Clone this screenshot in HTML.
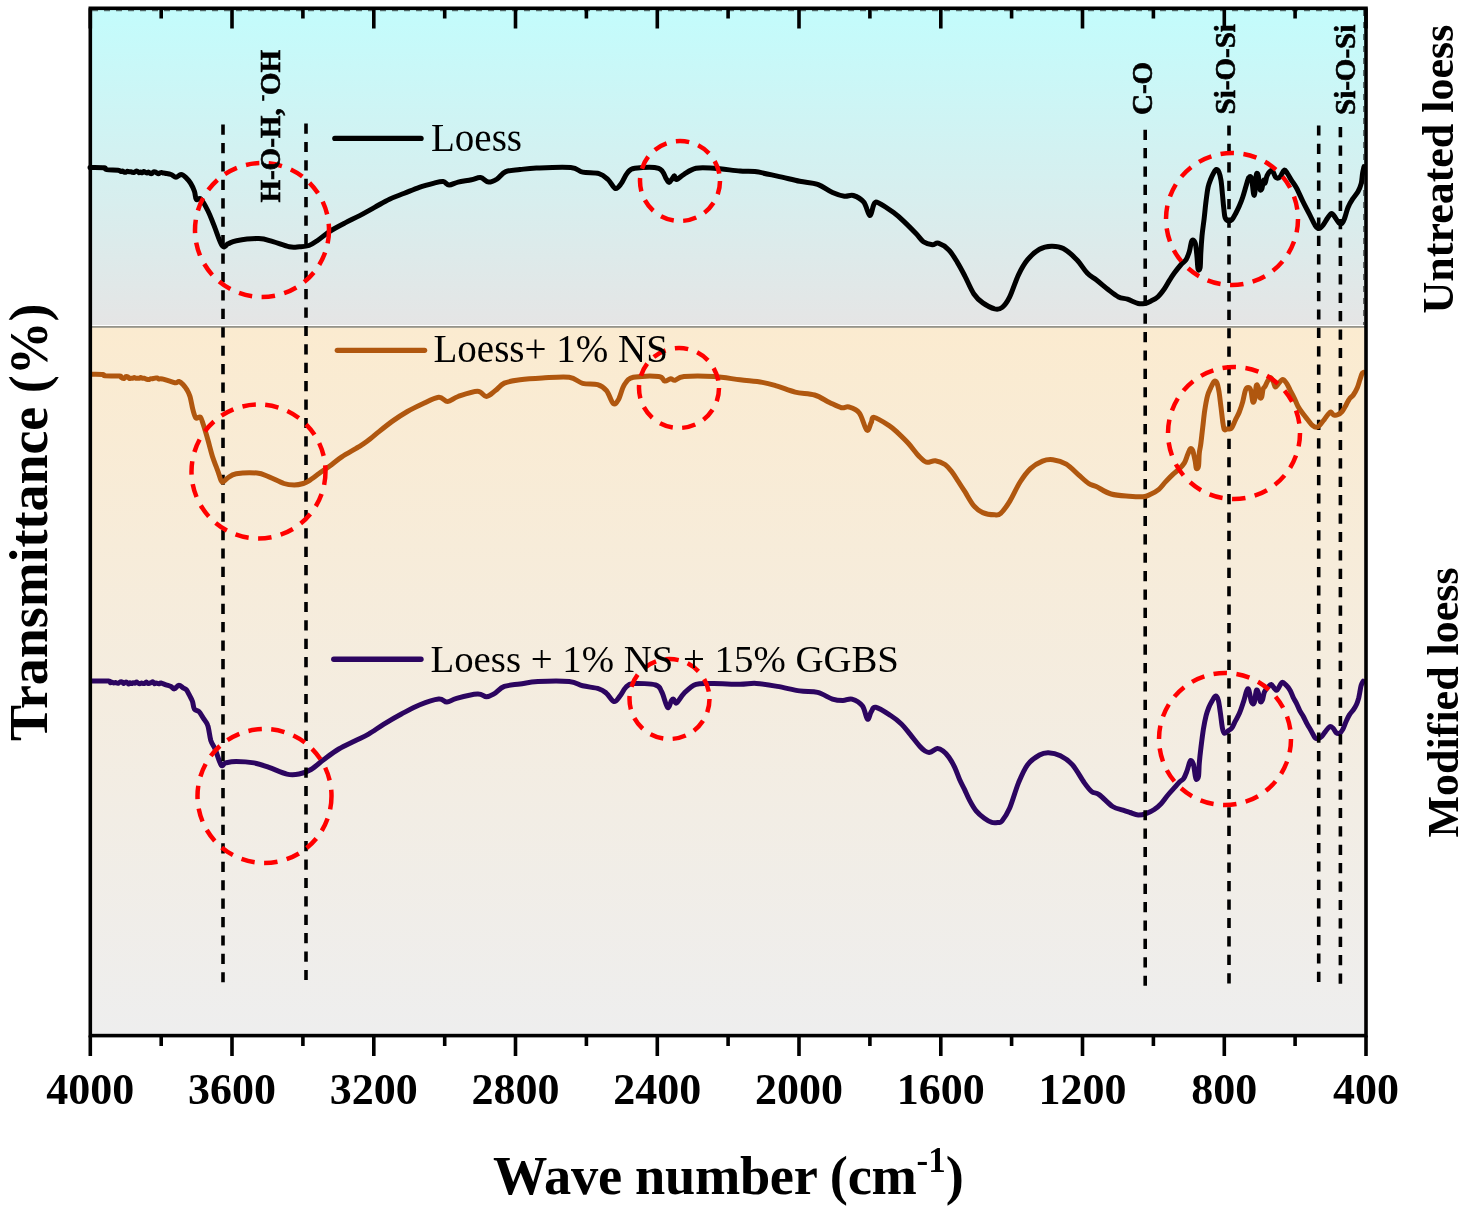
<!DOCTYPE html><html><head><meta charset="utf-8"><style>html,body{margin:0;padding:0;background:#fff;}svg{display:block;will-change:transform;}text{font-family:"Liberation Serif",serif;}</style></head><body><svg width="1475" height="1213" viewBox="0 0 1475 1213"><defs><linearGradient id="g1" x1="0" y1="0" x2="0" y2="1"><stop offset="0" stop-color="#c3fcfc"/><stop offset="1" stop-color="#e5e5e5"/></linearGradient><linearGradient id="g2" x1="0" y1="0" x2="0" y2="1"><stop offset="0" stop-color="#fbebd0"/><stop offset="1" stop-color="#eeeeee"/></linearGradient></defs><rect width="1475" height="1213" fill="#fff"/><rect x="90" y="9" width="1276" height="316.5" fill="url(#g1)"/><rect x="90" y="325" width="1276" height="1.2" fill="#ffffff"/><rect x="90" y="326.2" width="1276" height="1.6" fill="#7c796e"/><rect x="90" y="327.8" width="1276" height="706" fill="url(#g2)"/><path d="M1366,1035.6V1055.9M1366,8.3V28.6M1295.1,1035.6V1045.9M1295.1,8.3V18.6M1224.3,1035.6V1055.9M1224.3,8.3V28.6M1153.4,1035.6V1045.9M1153.4,8.3V18.6M1082.5,1035.6V1055.9M1082.5,8.3V28.6M1011.6,1035.6V1045.9M1011.6,8.3V18.6M940.8,1035.6V1055.9M940.8,8.3V28.6M869.9,1035.6V1045.9M869.9,8.3V18.6M799,1035.6V1055.9M799,8.3V28.6M728.1,1035.6V1045.9M728.1,8.3V18.6M657.3,1035.6V1055.9M657.3,8.3V28.6M586.4,1035.6V1045.9M586.4,8.3V18.6M515.5,1035.6V1055.9M515.5,8.3V28.6M444.7,1035.6V1045.9M444.7,8.3V18.6M373.8,1035.6V1055.9M373.8,8.3V28.6M302.9,1035.6V1045.9M302.9,8.3V18.6M232,1035.6V1055.9M232,8.3V28.6M161.2,1035.6V1045.9M161.2,8.3V18.6M90.3,1035.6V1055.9M90.3,8.3V28.6" stroke="#000" stroke-width="3.6" fill="none"/><path d="M90,167.6C92.3,167.6 101.2,167.5 104,167.8C106.8,168.1 104.2,169.2 106.5,169.6C108.8,170 115.6,169.9 118,170.2C120.4,170.5 120.2,171.4 121,171.5C121.8,171.6 122.1,170.8 122.6,170.9C123.2,171 123.7,172 124.3,172.3C124.8,172.5 125.3,172.3 125.9,172.2C126.4,172 127,171.4 127.5,171.3C128.1,171.3 128.6,171.7 129.1,171.8C129.7,171.9 130.2,171.7 130.8,171.8C131.3,171.9 131.9,172.1 132.4,172.2C133,172.3 133.5,172.7 134,172.5C134.6,172.4 135.1,171.5 135.7,171.3C136.2,171.1 136.8,171 137.3,171.3C137.8,171.5 138.4,172.7 138.9,172.8C139.5,172.9 140,172.1 140.6,172.1C141.1,172.1 141.6,172.9 142.2,172.8C142.7,172.7 143.3,171.6 143.8,171.5C144.4,171.4 144.9,172.1 145.4,172.3C146,172.6 146.5,173 147.1,172.9C147.6,172.9 148.2,172 148.7,172.1C149.2,172.2 149.8,173.2 150.3,173.4C150.9,173.7 151.4,173.7 152,173.4C152.5,173.2 153,172.2 153.6,171.9C154.1,171.7 154.7,171.8 155.2,172C155.8,172.1 156.3,172.7 156.9,173C157.4,173.3 157.9,173.8 158.5,173.7C159,173.7 159.6,173 160.1,172.8C160.7,172.6 161.2,172.5 161.7,172.6C162.3,172.6 162.8,172.9 163.4,173C163.9,173.1 163.7,172.9 165,173.2C166.3,173.5 169.2,173.8 171,174.5C172.8,175.2 174.3,177.2 176,177.2C177.7,177.2 179.3,174.5 181,174.6C182.7,174.7 184.4,176.1 186,177.6C187.6,179.1 189.3,181.1 190.7,183.4C192.1,185.7 193.6,188.8 194.5,191.5C195.4,194.2 195.2,198.2 196.3,199.5C197.4,200.8 198.9,197.1 200.8,199C202.8,200.9 205.8,206.6 208,211C210.2,215.4 211.6,219.6 214,225.4C216.4,231.2 219.8,242.8 222.2,245.8C224.6,248.9 225.9,244.5 228.3,243.7C230.7,242.8 231.3,241.5 236.4,240.7C241.5,239.8 252.7,238.4 258.8,238.6C264.9,238.8 267.9,240.3 273,241.7C278.1,243.1 284.9,246 289.3,246.8C293.7,247.7 296.2,247 299.5,246.8C302.8,246.6 305.9,246.6 309,245.5C312.1,244.4 314.4,242.6 317.9,240.2C321.4,237.8 325.3,234.2 329.8,231.3C334.3,228.5 339.7,225.7 344.7,223.1C349.7,220.5 354.7,218.2 359.7,215.6C364.7,213 369.6,210.1 374.6,207.4C379.6,204.7 384.5,201.5 389.5,199.2C394.5,196.8 399.4,195.3 404.4,193.3C409.4,191.3 414.3,189 419.3,187.3C424.3,185.6 430.2,184.1 434.2,183.1C438.2,182.1 440.7,181.3 443.2,181.6C445.7,181.9 446.6,184.9 449.1,185C451.6,185.1 454.4,183 458.1,182.1C461.8,181.2 467.8,180.6 471.5,179.8C475.2,179.1 477.6,177.2 480.5,177.6C483.4,178 486,181.8 488.7,182.1C491.4,182.3 494,180.8 496.9,179.1C499.8,177.3 501.9,173.2 505.8,171.6C509.7,170 514.9,170.2 520,169.6C525.1,169 527.9,168.3 536.4,168C544.9,167.7 563,166.9 570.7,167.6C578.4,168.3 577.9,171.1 582.6,172.1C587.3,173.1 594.8,172.4 599,173.6C603.2,174.8 605.2,177 608,179.5C610.8,182 613.3,187.9 615.5,188.5C617.7,189.1 619.4,185.9 621.4,183.3C623.4,180.7 625.2,175.3 627.4,172.8C629.6,170.3 629.6,169.1 634.8,168.3C640,167.6 653.5,166.6 658.7,168.3C663.9,170.1 664.5,176.4 666.2,178.8C667.9,181.2 668.1,182.5 669.1,182.5C670.1,182.5 671.2,179.9 672.1,178.8C673,177.7 673.6,175.7 674.4,175.8C675.1,175.9 675,179.8 676.6,179.5C678.2,179.2 680.8,176.2 684,174.3C687.2,172.4 691,169.3 696,168.3C701,167.3 706.6,167.9 713.9,168.3C721.2,168.8 733.2,170.4 740,171C746.8,171.6 748.7,170.8 754.9,171.6C761.1,172.4 769.8,174.5 777.3,176.1C784.8,177.7 793,179.9 799.7,181.3C806.4,182.7 812.1,182.4 817.6,184.3C823.1,186.2 828,190.5 832.5,192.5C837,194.5 840.9,195.7 844.4,196.2C847.9,196.7 850.1,194.5 853.3,195.5C856.5,196.5 861,198.8 863.8,202.2C866.5,205.5 868.1,215.3 869.8,215.6C871.5,215.8 872.7,205.8 874.2,203.7C875.7,201.6 875.5,201.4 878.7,202.9C881.9,204.4 889.4,209.5 893.6,212.6C897.8,215.7 900.4,218.1 904.1,221.6C907.8,225.1 912.8,230.2 916,233.5C919.2,236.8 920.7,239.8 923.4,241.7C926.1,243.6 929.9,244.4 932.4,244.7C934.9,244.9 935.7,242.3 938.4,243.2C941.1,244.1 945.6,246.7 948.8,249.9C952,253.1 954.8,258.2 957.5,262.6C960.2,267 962.2,270.9 964.9,276.1C967.6,281.3 970.9,289.5 973.9,294C976.9,298.5 979.3,300.4 982.8,302.9C986.3,305.4 991.5,308.1 994.7,308.9C997.9,309.6 999.7,309.4 1002.2,307.4C1004.7,305.4 1007,302.4 1009.7,296.9C1012.4,291.4 1015.6,280.8 1018.6,274.6C1021.6,268.4 1024.1,263.9 1027.6,259.7C1031.1,255.5 1035.5,251.4 1039.5,249.2C1043.5,246.9 1047.4,246.3 1051.4,246.2C1055.4,246.1 1059.1,246.2 1063.3,248.5C1067.5,250.8 1072.8,255.6 1076.8,259.7C1080.8,263.8 1084,269.8 1087.2,273.1C1090.4,276.5 1092.7,277.1 1096.2,279.8C1099.7,282.5 1104.4,286.6 1108.1,289.5C1111.8,292.4 1115.3,295.3 1118.5,296.9C1121.7,298.5 1124.2,298.1 1127.5,299.2C1130.8,300.3 1135.3,302.8 1138.2,303.5C1141.1,304.2 1142.6,303.9 1144.8,303.5C1147,303.1 1149.2,301.9 1151.4,300.8C1153.6,299.7 1155.8,298.8 1158,296.7C1160.2,294.6 1162.7,291.2 1164.6,288.5C1166.5,285.8 1167.9,282.8 1169.6,280.2C1171.2,277.6 1172.6,275.4 1174.5,272.8C1176.4,270.2 1179.2,266.7 1181.1,264.5C1183,262.3 1184.7,261.8 1186.1,259.6C1187.5,257.4 1188.4,254.5 1189.4,251.3C1190.4,248.1 1190.9,242 1191.9,240.6C1192.9,239.2 1194.4,240.8 1195.2,243.1C1196,245.4 1196.3,250.3 1196.8,254.6C1197.3,258.9 1197.5,266.5 1198,268.7C1198.5,270.9 1199.6,270.4 1200.1,267.8C1200.6,265.2 1200.5,258.3 1200.8,253C1201.1,247.7 1201.5,241.7 1202,236C1202.5,230.3 1203.4,224.9 1204.1,219C1204.8,213.1 1205.4,206 1206.1,200.7C1206.8,195.4 1207.3,190.7 1208.1,187.1C1208.9,183.5 1209.9,181.4 1210.8,179C1211.7,176.6 1212.7,174.5 1213.6,172.9C1214.5,171.3 1215.4,169.6 1216.3,169.5C1217.2,169.4 1218.2,170.4 1219,172.2C1219.8,174 1220.4,176.7 1221,180.3C1221.6,183.9 1222,189.4 1222.4,193.9C1222.9,198.4 1223.2,203.6 1223.7,207.5C1224.2,211.4 1224.3,215.3 1225.1,217.6C1225.9,219.8 1227.4,220.7 1228.5,221C1229.6,221.3 1230.8,220.8 1231.9,219.7C1233,218.6 1234.1,216.5 1235.3,214.2C1236.5,211.9 1238.1,208.9 1239.3,206.1C1240.5,203.3 1241.6,200.7 1242.7,197.3C1243.8,193.9 1245.1,189.1 1246.1,185.8C1247.1,182.5 1247.9,178.8 1248.8,177.6C1249.7,176.3 1250.7,175.6 1251.5,178.3C1252.3,181 1253,191.5 1253.6,193.9C1254.2,196.3 1254.5,195.7 1254.9,192.5C1255.4,189.3 1255.7,177.7 1256.3,174.9C1256.9,172.1 1257.7,173.3 1258.3,175.6C1258.9,177.9 1259.1,186.2 1259.7,188.5C1260.3,190.8 1261,190.6 1261.7,189.2C1262.4,187.8 1263.1,181.3 1263.7,180.3C1264.3,179.3 1264.5,183.9 1265.1,183.1C1265.7,182.3 1266.2,177.6 1267.1,175.6C1268,173.6 1269.5,171.4 1270.5,170.8C1271.5,170.2 1272.3,171.1 1273.2,172.2C1274.1,173.3 1274.8,176.8 1275.9,177.6C1277,178.4 1278.6,178.2 1280,177C1281.4,175.8 1282.8,170.8 1284.1,170.2C1285.3,169.6 1286.3,171.9 1287.5,173.6C1288.7,175.3 1290,177.9 1291.5,180.3C1293,182.7 1294.5,184.3 1296.5,188C1298.5,191.7 1301,197.7 1303.2,202.2C1305.4,206.7 1307.8,211 1309.8,214.8C1311.8,218.7 1313.6,223 1315.1,225.3C1316.6,227.6 1317.7,228.6 1319,228.6C1320.3,228.6 1321.6,227.1 1323,225.3C1324.4,223.5 1326.2,220 1327.6,218C1329,216 1330.3,213.4 1331.6,213.4C1332.9,213.4 1334.3,216.4 1335.5,218C1336.7,219.6 1337.7,221.8 1338.8,222.7C1339.9,223.6 1341.1,224.1 1342.1,223.3C1343.1,222.5 1343.7,220.6 1344.7,218C1345.7,215.4 1346.7,210.7 1348,207.5C1349.3,204.3 1351,201.5 1352.7,198.9C1354.4,196.3 1356.5,194.2 1357.9,191.7C1359.3,189.2 1360.4,186.8 1361.2,183.7C1362,180.6 1362.1,176 1362.6,173.2C1363.1,170.3 1363.8,167.7 1364,166.6" fill="none" stroke="#000000" stroke-width="5" stroke-linejoin="round" stroke-linecap="round"/><path d="M92,681C94.8,681 105.4,680.7 108.5,681C111.6,681.3 109.9,682.6 110.5,682.8C111.1,683 111.6,682.2 112.1,682.2C112.7,682.2 113.2,682.9 113.8,682.9C114.3,683 114.8,682.5 115.4,682.5C115.9,682.6 116.5,683 117,683.1C117.6,683.2 118.1,683.3 118.6,683.1C119.2,682.9 119.7,682.1 120.3,681.9C120.8,681.7 121.4,681.5 121.9,681.8C122.4,682.1 123,683.5 123.5,683.6C124.1,683.7 124.6,682.5 125.2,682.3C125.7,682.1 126.2,682 126.8,682.3C127.3,682.6 127.9,683.9 128.4,684C129,684.1 129.5,682.9 130,682.8C130.6,682.8 131.1,683.6 131.7,683.6C132.2,683.6 132.8,682.9 133.3,682.8C133.8,682.8 134.4,683.3 134.9,683.2C135.5,683.1 136,682.1 136.6,682.1C137.1,682.1 137.7,682.9 138.2,683.2C138.7,683.5 139.3,683.8 139.8,683.7C140.4,683.7 140.9,683 141.5,683C142,682.9 142.5,683.4 143.1,683.5C143.6,683.5 144.2,683.6 144.7,683.3C145.3,683.1 145.8,681.9 146.3,682C146.9,682 147.4,683.3 148,683.5C148.5,683.7 149.1,683.3 149.6,683.2C150.1,683 150.7,682.7 151.2,682.5C151.8,682.3 152.3,681.7 152.9,681.9C153.4,682.1 153.9,683.6 154.5,683.8C155,683.9 155.6,683 156.1,682.9C156.7,682.9 157.2,683.3 157.7,683.5C158.3,683.6 158.8,683.9 159.4,683.8C159.9,683.7 159.9,682.8 161,683C162.1,683.2 164.3,684.2 166,684.8C167.7,685.4 169.6,685.8 171,686.5C172.4,687.2 173,689.1 174.3,688.9C175.6,688.7 177.3,685.4 178.8,685.3C180.3,685.1 182.1,687.3 183.3,688C184.6,688.7 185.3,688.5 186.3,689.6C187.3,690.8 188.3,692.9 189.3,694.9C190.3,696.9 191.7,699.1 192.5,701.5C193.3,703.9 193.3,707.5 194.4,709.2C195.5,710.9 197.4,710 198.9,711.5C200.4,713 201.8,715.9 203.3,718.2C204.8,720.6 206.6,721.9 207.8,725.6C209.1,729.3 209.6,736.5 210.8,740.5C212.1,744.5 213.6,745.4 215.3,749.5C217,753.6 219.5,762.9 221.2,765.1C222.9,767.3 223.2,763.5 225.7,762.9C228.2,762.3 231.5,761.4 236.2,761.4C240.9,761.4 248.6,761.9 254.1,762.9C259.6,763.9 263.5,765.5 269,767.4C274.5,769.3 281.9,773 286.9,774.1C291.9,775.2 295,774.8 299,774C303,773.2 306.9,771.9 311,769.5C315.1,767.1 319.3,762.9 323.9,759.5C328.5,756.1 333.6,752.1 338.8,749C344,745.9 350.2,743.3 355.2,740.8C360.2,738.3 363.9,736.8 368.6,734.1C373.3,731.4 378,727.8 383.5,724.4C389,721 395.4,717.2 401.4,714C407.4,710.8 413.1,707.5 419.3,705C425.5,702.5 434.1,699.6 438.7,699.1C443.3,698.6 443.9,702.2 446.9,702.1C449.9,702 451.5,699.7 456.6,698.3C461.7,696.9 472.5,694.1 477.5,693.9C482.5,693.6 483.7,696.8 486.4,696.8C489.1,696.8 490.9,695.6 493.9,693.9C496.9,692.2 499.9,688 504.3,686.4C508.7,684.8 514.4,684.8 520,684C525.6,683.2 529.7,682 537.9,681.6C546.1,681.2 561.8,680.9 569.2,681.6C576.7,682.3 577.6,684.6 582.6,685.8C587.6,687 595,687.5 599,688.8C603,690 604,691.2 606.5,693.3C609,695.4 611.8,701 614,701.5C616.2,702 617.9,698.6 619.9,696.2C621.9,693.8 623.7,689.4 625.9,687.3C628.1,685.2 628.3,684 633.3,683.6C638.3,683.2 651,683.6 655.7,685C660.4,686.4 659.7,688.1 661.7,691.8C663.7,695.5 666,705.9 667.6,707.4C669.2,708.9 670.4,702.1 671.4,700.7C672.4,699.3 672.7,698.8 673.6,699.2C674.5,699.6 674.9,703.9 676.6,702.9C678.4,701.9 680.9,696.4 684.1,693.3C687.3,690.2 691,685.9 696,684.3C701,682.7 706.6,683.6 713.9,683.6C721.2,683.6 732.9,684.2 740,684.2C747.1,684.2 750.2,683 756.4,683.4C762.6,683.8 770.1,685.1 777.3,686.4C784.5,687.6 793,689.9 799.7,690.9C806.4,691.9 812.1,691 817.6,692.4C823.1,693.8 828.3,697.7 832.5,699.1C836.7,700.5 839.7,700.6 842.9,700.6C846.1,700.6 848.7,698.2 851.9,699.1C855.1,700 859.7,702.4 862.3,705.8C864.9,709.1 866,718.2 867.5,719.2C869,720.2 869.8,713.8 871.2,711.8C872.6,709.8 872.5,706.7 875.7,707.3C878.9,707.9 886.4,712.8 890.6,715.5C894.8,718.2 897.9,720.6 901.1,723.7C904.3,726.8 906.9,730.3 910,734.1C913.1,737.9 917.5,743.7 920,746.5C922.5,749.3 923.4,750 925,751C926.6,752 927.9,752.7 929.9,752.3C931.9,751.9 935.1,748.8 937.3,748.6C939.5,748.4 941.2,749.6 943.1,751C945,752.4 947,754.5 948.9,757.2C950.8,759.9 952.8,763.4 954.6,767.1C956.4,770.8 958,775.8 959.6,779.5C961.2,783.2 962.9,786 964.5,789.4C966.1,792.8 967.6,796.5 969.5,800.1C971.4,803.7 973.6,807.8 976.1,810.8C978.6,813.8 981.7,816.3 984.3,818.2C986.9,820.1 989.4,821.7 991.8,822.4C994.1,823.1 996.7,822.6 998.4,822.4C1000.1,822.2 1000.1,823.4 1002,821C1003.9,818.6 1006.9,814.4 1009.7,808C1012.5,801.6 1015.6,789.8 1018.6,782.6C1021.6,775.4 1024.1,769.3 1027.6,764.7C1031.1,760.1 1036,757 1039.5,755C1043,753 1044.9,752.7 1048.4,752.8C1051.9,752.9 1056.4,753.8 1060.4,755.8C1064.4,757.8 1068.3,760.2 1072.3,764.7C1076.3,769.2 1081,778.1 1084.2,782.6C1087.4,787.1 1089.2,789.6 1091.7,791.6C1094.2,793.6 1095.6,792.1 1099.1,794.6C1102.6,797.1 1108.6,803.9 1112.6,806.5C1116.6,809.1 1120.1,809.2 1123,810.2C1125.9,811.2 1127.5,811.7 1130,812.5C1132.5,813.3 1135.5,814.9 1138.2,815C1141,815.1 1143.8,814.3 1146.5,813.3C1149.2,812.3 1152.2,810.9 1154.7,809.2C1157.2,807.6 1159.2,805.6 1161.3,803.4C1163.4,801.2 1165.2,798.3 1167.1,796C1169,793.7 1170.8,791.7 1172.9,789.4C1175,787.1 1177.7,783.8 1179.5,782C1181.3,780.2 1182.4,780.5 1183.6,778.7C1184.8,776.9 1185.9,773.8 1186.9,771.2C1187.9,768.6 1188.7,764.8 1189.4,763C1190.1,761.2 1190.3,760.2 1191,760.5C1191.7,760.8 1192.8,762.1 1193.5,764.6C1194.2,767.1 1194.7,772.9 1195.2,775.4C1195.7,777.9 1195.8,779.4 1196.3,779.5C1196.8,779.6 1198,779 1198.5,776.2C1199,773.5 1198.9,767.4 1199.3,763C1199.7,758.6 1200,755.2 1200.7,749.6C1201.4,744 1202.5,734.9 1203.4,729.2C1204.3,723.6 1205.2,719.3 1206.1,715.7C1207,712.1 1207.8,710 1208.8,707.5C1209.8,705 1211.1,702.7 1212.2,700.8C1213.3,698.9 1214.6,696.1 1215.6,696C1216.6,695.9 1217.5,697.4 1218.3,700.1C1219.1,702.8 1219.6,707.7 1220.3,712.3C1221,716.9 1221.7,724.4 1222.4,727.9C1223.1,731.4 1223.4,732.8 1224.4,733.3C1225.4,733.8 1227.2,731.5 1228.5,730.6C1229.8,729.7 1230.8,729.5 1231.9,727.9C1233,726.3 1234.1,723.5 1235.3,721.1C1236.5,718.7 1237.9,716.8 1239.3,713.6C1240.7,710.4 1242.2,705.9 1243.4,702.1C1244.7,698.3 1245.9,692.6 1246.8,690.6C1247.7,688.6 1248,688 1248.8,689.9C1249.6,691.8 1250.6,700 1251.5,702.1C1252.4,704.2 1253.4,704.7 1254.2,702.8C1255,700.9 1255.6,692.3 1256.3,690.6C1257,688.9 1257.6,690.8 1258.3,692.6C1259,694.4 1259.6,700.1 1260.3,701.4C1261,702.6 1261.7,701.7 1262.4,700.1C1263.1,698.5 1263.5,694.1 1264.4,692C1265.3,689.9 1266.7,688.5 1267.8,687.2C1268.9,686 1270.1,684.3 1271.2,684.5C1272.3,684.7 1273.6,687.7 1274.6,688.6C1275.6,689.5 1276.1,690.9 1277.3,689.9C1278.5,688.9 1280.5,683.3 1282,682.5C1283.5,681.7 1284.7,683.9 1286.1,685.2C1287.5,686.5 1289,688.4 1290.2,690.5C1291.4,692.6 1292.2,695.5 1293.3,697.7C1294.4,699.9 1295.5,701.4 1296.6,703.6C1297.7,705.8 1298.8,708.8 1299.9,710.9C1301,713 1302,714 1303.2,716.2C1304.4,718.4 1305.9,721.7 1307.2,724.1C1308.5,726.5 1309.8,728.4 1311.1,730.7C1312.4,733 1313.9,736.6 1315.1,737.9C1316.3,739.2 1317.3,738.8 1318.4,738.6C1319.5,738.4 1320.5,737.8 1321.7,736.6C1322.9,735.4 1324.3,732.9 1325.6,731.3C1326.9,729.6 1328.4,727.2 1329.6,726.7C1330.8,726.2 1331.8,727 1332.9,728C1334,729 1335.1,731.8 1336.2,732.7C1337.3,733.6 1338.4,733.8 1339.5,733.3C1340.6,732.8 1341.7,731.4 1342.8,729.4C1343.9,727.4 1345,723.9 1346.1,721.5C1347.2,719.1 1348.1,717 1349.4,714.9C1350.7,712.8 1352.8,710.7 1354,708.9C1355.2,707.1 1355.8,706 1356.6,704.3C1357.4,702.5 1358,700.5 1358.6,698.4C1359.1,696.3 1359.5,694 1359.9,691.8C1360.3,689.6 1360.7,687 1361.2,685.2C1361.8,683.4 1362.9,681.9 1363.2,681.2" fill="none" stroke="#2c0560" stroke-width="5" stroke-linejoin="round" stroke-linecap="round"/><line x1="223" y1="124.5" x2="223" y2="982.3" stroke="#000" stroke-width="3.6" stroke-dasharray="10.2 8.23"/><line x1="306" y1="123.5" x2="306" y2="980" stroke="#000" stroke-width="3.6" stroke-dasharray="10.2 8.20"/><line x1="1145.2" y1="129.7" x2="1145.2" y2="985.9" stroke="#000" stroke-width="3.6" stroke-dasharray="10.2 8.19"/><line x1="1229" y1="125.4" x2="1229" y2="983.4" stroke="#000" stroke-width="3.6" stroke-dasharray="10.2 8.23"/><line x1="1318.7" y1="125.4" x2="1318.7" y2="982.2" stroke="#000" stroke-width="3.6" stroke-dasharray="10.2 8.20"/><line x1="1340.4" y1="127.1" x2="1340.4" y2="983.9" stroke="#000" stroke-width="3.6" stroke-dasharray="10.2 8.20"/><path d="M92,374.2C93.8,374.2 100.8,374.1 103,374.4C105.2,374.7 102.2,375.5 105,375.8C107.8,376.1 116.8,375.8 119.5,376C122.2,376.2 120.5,376.9 121,377.3C121.5,377.7 122.1,378.1 122.7,378.3C123.2,378.5 123.8,378.6 124.3,378.3C124.9,378.1 125.4,376.9 126,376.6C126.5,376.4 127.1,376.5 127.6,376.8C128.2,377.1 128.7,378.1 129.3,378.4C129.8,378.6 130.4,378.3 130.9,378.2C131.5,378.2 132,378.3 132.6,378.2C133.1,378.1 133.7,377.5 134.2,377.5C134.8,377.5 135.3,378.1 135.9,378.2C136.4,378.3 137,378.3 137.5,378.3C138.1,378.3 138.6,378.4 139.2,378.3C139.7,378.2 140.3,377.6 140.8,377.5C141.4,377.5 141.9,378.1 142.5,378.2C143.1,378.3 143.6,378 144.2,378.2C144.7,378.3 145.3,378.7 145.8,378.9C146.4,379.1 146.9,379.4 147.5,379.5C148,379.6 148.6,379.6 149.1,379.5C149.7,379.4 150.2,378.9 150.8,378.8C151.3,378.6 151.9,378.7 152.4,378.7C153,378.6 153.5,378.5 154.1,378.4C154.6,378.3 155.2,378 155.7,378C156.3,377.9 156.8,377.9 157.4,378C157.9,378.2 158.5,378.9 159,379C159.6,379.1 160.1,378.8 160.7,378.8C161.2,378.8 161.8,378.9 162.3,379C162.9,379.1 162.4,378.8 164,379.3C165.6,379.8 170,381.2 172,381.8C174,382.4 174.8,382.9 176,382.8C177.2,382.8 177.8,381.2 179,381.5C180.2,381.8 181.7,383.1 183,384.5C184.3,385.9 185.8,387.9 187,389.9C188.2,391.9 189,393.2 190,396.5C191,399.8 191.9,406.1 192.9,409.7C193.9,413.3 194.7,416.7 195.9,417.9C197.2,419.1 199.2,416 200.4,417.1C201.6,418.2 202.1,420.9 203.3,424.6C204.5,428.3 206.3,434.3 207.8,439.5C209.3,444.7 210.6,450.4 212.3,455.9C214.1,461.4 216.7,467.9 218.3,472.3C219.9,476.7 220.5,481 222,482C223.5,483 224.8,479.7 227.2,478.3C229.6,476.9 231.2,474.7 236.2,473.8C241.2,472.9 251.5,472.5 257,473C262.5,473.5 264.5,475.1 269,476.8C273.5,478.6 279.7,482.1 283.9,483.5C288.1,484.9 291.1,485 294.3,485C297.5,485 300.9,484.2 303.3,483.5C305.7,482.8 306.2,482.5 308.9,480.8C311.6,479.1 315.9,475.8 319.4,473.3C322.9,470.8 326.1,468.6 329.8,465.9C333.5,463.2 337.1,460 341.8,456.9C346.5,453.8 354,449.8 358.2,447.2C362.4,444.6 363.6,443.9 367.1,441.3C370.6,438.7 374.8,435 379,431.6C383.2,428.2 387.8,424.5 392.5,421.1C397.2,417.8 402.4,414.4 407.4,411.5C412.4,408.6 417.1,406.4 422.3,404C427.5,401.6 434.5,397.7 438.7,397.3C442.9,396.9 444.5,401.6 447.7,401.5C450.9,401.4 453.1,398.2 458.1,396.5C463.1,394.8 472.8,391.3 477.5,391.3C482.2,391.3 483.4,396.6 486.4,396.5C489.4,396.4 492.4,392.8 495.4,390.6C498.4,388.4 500.2,384.9 504.3,383.1C508.4,381.3 513.6,380.7 520,379.8C526.4,378.9 534.2,378.4 542.4,378C550.6,377.6 562.5,376.4 569.2,377.3C575.9,378.2 577.9,382.1 582.6,383.3C587.3,384.5 593.6,383.5 597.6,384.7C601.6,385.9 603.9,387.6 606.5,390.7C609.1,393.8 611.2,401.9 613.2,403.4C615.2,404.9 616.5,402.8 618.4,399.7C620.3,396.6 621.9,388.4 624.4,384.7C626.9,381 627.6,378.7 633.3,377.3C639,375.9 653.5,375.9 658.7,376.5C663.9,377.1 662.7,380.6 664.7,381C666.7,381.4 668.9,378.9 670.6,378.8C672.3,378.7 672.9,380.7 675.1,380.3C677.3,379.9 677.5,377.1 684,376.5C690.5,375.9 704.6,375.9 713.9,376.5C723.2,377.1 731.9,378.8 740,379.8C748.1,380.8 756.2,381.3 762.4,382.4C768.6,383.4 771.8,384.5 777.3,386.1C782.8,387.7 789,390.6 795.2,392.1C801.4,393.6 808.9,393.3 814.6,395C820.3,396.7 825,400.4 829.5,402.5C834,404.6 838.2,406.9 841.4,407.7C844.6,408.4 845.9,406.1 848.9,407C851.9,407.9 856.3,409 859.3,412.9C862.3,416.8 864.8,428.5 866.8,430.1C868.8,431.7 870,424.7 871.2,422.6C872.4,420.5 871.2,416.9 874.2,417.4C877.2,417.9 885.1,423 889.1,425.6C893.1,428.2 894.9,430.1 898.1,433.1C901.3,436.1 905,439.6 908.5,443.5C912,447.4 916,453.1 919,456.2C922,459.3 923.7,461.4 926.4,462.2C929.1,462.9 932.3,460.3 935.4,460.7C938.5,461.1 942.2,462.6 945,464.5C947.8,466.4 949.8,469.2 952,472C954.2,474.8 955.9,477.7 958,481C960.1,484.3 962.2,487.6 964.9,491.7C967.5,495.8 970.9,502.4 973.9,505.9C976.9,509.4 979.3,511.1 982.8,512.6C986.3,514.1 991.7,514.7 994.7,514.8C997.7,514.9 998.2,515.5 1000.7,513.3C1003.2,511.1 1006.5,506.6 1009.7,501.4C1012.9,496.2 1016.6,487.5 1020.1,482C1023.6,476.5 1026.8,472.1 1030.5,468.6C1034.2,465.1 1038.8,462.6 1042.5,461.1C1046.2,459.6 1048.9,459.2 1052.9,459.7C1056.9,460.2 1062.1,461.6 1066.3,464.1C1070.5,466.6 1074.6,471.4 1078.3,474.6C1082,477.8 1085.7,481.5 1088.7,483.5C1091.7,485.5 1092.5,484.8 1096.2,486.5C1099.9,488.2 1105.6,492.4 1111.1,494C1116.6,495.6 1123.7,495.8 1129,496.2C1134.3,496.6 1139.6,497 1143.2,496.7C1146.8,496.4 1148,495.4 1150.6,494.2C1153.2,493 1156.4,491.4 1158.9,489.3C1161.4,487.2 1163.2,484.4 1165.5,481.9C1167.8,479.4 1170.6,476.6 1172.9,474.4C1175.2,472.2 1177.6,470.6 1179.5,468.7C1181.4,466.8 1183,465.2 1184.4,462.9C1185.8,460.5 1186.7,456.9 1187.7,454.6C1188.7,452.3 1189.4,449.6 1190.2,448.9C1191,448.2 1191.9,448.4 1192.7,450.5C1193.5,452.6 1194.6,458.2 1195.2,461.2C1195.8,464.2 1195.8,467.7 1196.3,468.5C1196.8,469.3 1198,468.8 1198.5,466.2C1199,463.6 1198.9,456.6 1199.3,453C1199.7,449.4 1200.1,448.8 1200.7,444.6C1201.3,440.4 1202,433.2 1202.7,427.6C1203.4,422 1203.9,416 1204.7,410.7C1205.5,405.4 1206.5,399.6 1207.5,395.8C1208.5,392 1209.7,390 1210.8,387.6C1211.9,385.2 1213.2,382.3 1214.2,381.5C1215.2,380.7 1216.1,381.2 1216.9,382.9C1217.7,384.6 1218.3,387.6 1219,391.7C1219.7,395.8 1220.3,401.9 1221,407.3C1221.7,412.7 1222.5,420.5 1223.1,424.2C1223.7,427.9 1223.7,428.9 1224.4,429.7C1225.1,430.5 1226.3,429.1 1227.1,429C1227.9,428.9 1228.4,429.2 1229.2,429C1230,428.8 1230.9,429.1 1231.9,427.6C1232.9,426.1 1234.1,422.8 1235.3,420.2C1236.5,417.6 1238.1,415.1 1239.3,412C1240.5,408.9 1241.7,405.5 1242.7,401.9C1243.7,398.3 1244.5,392.7 1245.4,390.3C1246.3,387.9 1247.2,387.6 1248.1,387.6C1249,387.6 1250,387.9 1250.8,390.3C1251.6,392.7 1252.2,400.5 1252.9,401.9C1253.6,403.3 1254.3,401.2 1254.9,398.5C1255.5,395.8 1255.7,387.4 1256.3,385.6C1256.9,383.8 1257.7,385.7 1258.3,387.6C1258.9,389.5 1259.1,395.5 1259.7,397.1C1260.3,398.7 1261.1,398.5 1261.7,397.1C1262.3,395.8 1262.5,390.8 1263.1,389C1263.7,387.2 1264.3,387.7 1265.1,386.3C1265.9,384.9 1266.9,382.3 1267.8,380.8C1268.7,379.3 1269.6,377.4 1270.5,377.5C1271.4,377.6 1272.4,379.9 1273.2,381.5C1274,383.1 1274.4,386.6 1275.3,387C1276.2,387.4 1277.4,384.9 1278.6,383.6C1279.8,382.4 1281.3,379.5 1282.7,379.5C1284.1,379.5 1285.5,381.8 1286.8,383.6C1288,385.4 1289,388 1290.2,390.3C1291.4,392.6 1292.7,394.9 1294,397.5C1295.3,400.1 1296.4,403.4 1297.9,406.2C1299.4,409 1301.4,411.7 1303.2,414.1C1305,416.5 1307,418.8 1308.5,420.7C1310,422.6 1311.1,424.2 1312.4,425.3C1313.7,426.4 1315.2,427.3 1316.4,427.3C1317.6,427.3 1318.4,426.6 1319.7,425.3C1321,424 1322.9,421.3 1324.3,419.4C1325.7,417.5 1327.2,415.3 1328.3,414.1C1329.4,412.9 1330,412 1330.9,412.1C1331.8,412.2 1332.4,414.4 1333.5,414.8C1334.6,415.2 1336.1,415.4 1337.5,414.8C1338.9,414.2 1340.7,413.1 1342.1,411.5C1343.5,409.9 1344.9,407 1346.1,404.9C1347.3,402.8 1348.2,400.5 1349.4,398.9C1350.6,397.2 1352,396.9 1353.3,395C1354.6,393.1 1356.2,390.2 1357.3,387.7C1358.4,385.2 1359.1,382.1 1359.9,379.8C1360.7,377.5 1361.3,375.1 1361.9,373.9C1362.5,372.6 1363.3,372.6 1363.6,372.3" fill="none" stroke="#b0570f" stroke-width="5" stroke-linejoin="round" stroke-linecap="round"/><circle cx="262" cy="230" r="67" fill="none" stroke="#f00" stroke-width="4.5" stroke-dasharray="13.5 9.5"/><circle cx="680" cy="181" r="40" fill="none" stroke="#f00" stroke-width="4.5" stroke-dasharray="13.5 9.5"/><circle cx="1232" cy="219" r="66" fill="none" stroke="#f00" stroke-width="4.5" stroke-dasharray="13.5 9.5"/><circle cx="258.5" cy="471.5" r="67" fill="none" stroke="#f00" stroke-width="4.5" stroke-dasharray="13.5 9.5"/><circle cx="679" cy="388" r="40" fill="none" stroke="#f00" stroke-width="4.5" stroke-dasharray="13.5 9.5"/><circle cx="1234" cy="433" r="66" fill="none" stroke="#f00" stroke-width="4.5" stroke-dasharray="13.5 9.5"/><circle cx="264.5" cy="796" r="67" fill="none" stroke="#f00" stroke-width="4.5" stroke-dasharray="13.5 9.5"/><circle cx="669.5" cy="699" r="40" fill="none" stroke="#f00" stroke-width="4.5" stroke-dasharray="13.5 9.5"/><circle cx="1225" cy="739" r="66" fill="none" stroke="#f00" stroke-width="4.5" stroke-dasharray="13.5 9.5"/><rect x="90.3" y="8.3" width="1275.7" height="1027.3" fill="none" stroke="#000" stroke-width="3.6"/><line x1="92" y1="10.6" x2="1364" y2="10.6" stroke="#000" stroke-opacity="0.55" stroke-width="1.2" stroke-dasharray="6 6"/><line x1="1363.6" y1="10" x2="1363.6" y2="325" stroke="#000" stroke-opacity="0.55" stroke-width="1.2" stroke-dasharray="6 6"/><line x1="334.9" y1="138.4" x2="421" y2="138.4" stroke="#000" stroke-width="5.4" stroke-linecap="round"/><text x="431" y="150.6" font-size="39">Loess</text><line x1="337.3" y1="350.3" x2="424.6" y2="350.3" stroke="#b0570f" stroke-width="5.3" stroke-linecap="round"/><text x="433.5" y="362.4" font-size="39">Loess+ 1% NS</text><line x1="333.8" y1="659.2" x2="421" y2="659.2" stroke="#2c0560" stroke-width="5.4" stroke-linecap="round"/><text x="430.5" y="672" font-size="38.8">Loess + 1% NS + 15% GGBS</text><text transform="translate(280,202.6) rotate(-90)" font-size="29" font-weight="bold" stroke="#000" stroke-width="0.6">H-O-H, <tspan font-size="18" dy="-12">-</tspan><tspan dy="12">OH</tspan></text><text transform="translate(1152.2,115) rotate(-90)" font-size="29" font-weight="bold" stroke="#000" stroke-width="0.6">C-O</text><text transform="translate(1235.3,114.4) rotate(-90)" font-size="29" font-weight="bold" stroke="#000" stroke-width="0.6">Si-O-Si</text><text transform="translate(1354.7,115) rotate(-90)" font-size="29" font-weight="bold" stroke="#000" stroke-width="0.6">Si-O-Si</text><text transform="translate(1453,313.5) rotate(-90)" font-size="44" font-weight="bold">Untreated loess</text><text transform="translate(1457.5,837.5) rotate(-90)" font-size="44" font-weight="bold">Modified loess</text><text transform="translate(46.6,741) rotate(-90) scale(0.98,1)" font-size="55" font-weight="bold">Transmittance (%)</text><text x="1366" y="1104.2" font-size="44" font-weight="bold" text-anchor="middle">400</text><text x="1224.3" y="1104.2" font-size="44" font-weight="bold" text-anchor="middle">800</text><text x="1082.5" y="1104.2" font-size="44" font-weight="bold" text-anchor="middle">1200</text><text x="940.8" y="1104.2" font-size="44" font-weight="bold" text-anchor="middle">1600</text><text x="799" y="1104.2" font-size="44" font-weight="bold" text-anchor="middle">2000</text><text x="657.3" y="1104.2" font-size="44" font-weight="bold" text-anchor="middle">2400</text><text x="515.5" y="1104.2" font-size="44" font-weight="bold" text-anchor="middle">2800</text><text x="373.8" y="1104.2" font-size="44" font-weight="bold" text-anchor="middle">3200</text><text x="232" y="1104.2" font-size="44" font-weight="bold" text-anchor="middle">3600</text><text x="90.3" y="1104.2" font-size="44" font-weight="bold" text-anchor="middle">4000</text><text x="493" y="1194.4" font-size="54.4" font-weight="bold" letter-spacing="-0.3">Wave number (cm<tspan font-size="35" dy="-22" letter-spacing="0">-1</tspan><tspan dy="22" letter-spacing="0">)</tspan></text></svg></body></html>
